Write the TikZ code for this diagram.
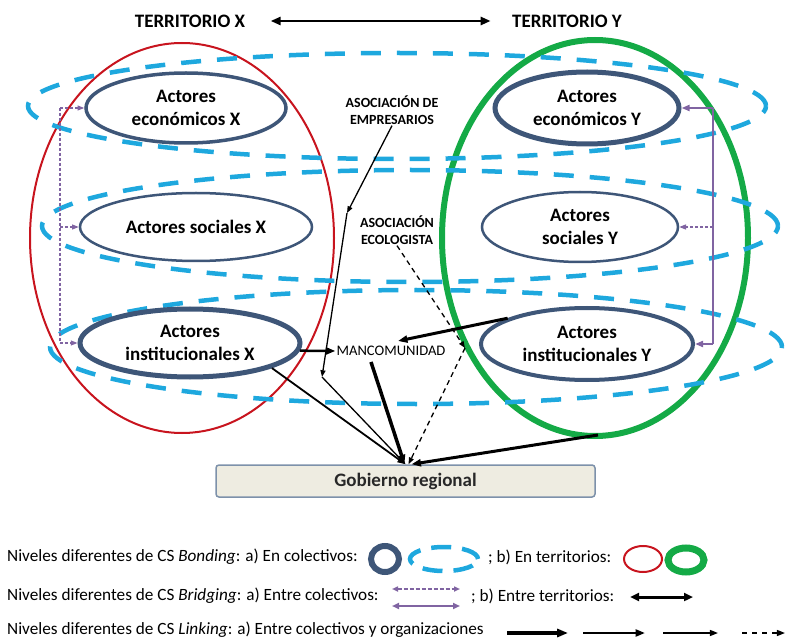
\documentclass[tikz,border=0pt]{standalone}
\usepackage{fontspec}
\setmainfont{Carlito}
\usetikzlibrary{arrows.meta,calc,shapes.geometric}

\definecolor{terrred}{RGB}{200,20,30}
\definecolor{terrgreen}{RGB}{20,170,70}
\definecolor{bandblue}{RGB}{30,168,222}
\definecolor{actorblue}{RGB}{62,86,120}
\definecolor{bridgepurple}{RGB}{128,100,162}
\definecolor{govfill}{RGB}{238,236,225}
\definecolor{govdraw}{RGB}{125,145,170}
\definecolor{govtext}{RGB}{40,40,40}

\begin{document}
\begin{tikzpicture}[x=1pt,y=-1pt,
  actor/.style={ellipse, draw=actorblue, fill=white, inner sep=0pt, align=center,
    font=\fontsize{19}{23}\selectfont\bfseries},
  band/.style={draw=bandblue, line width=4.5pt, dash pattern=on 20pt off 16pt},
  title/.style={font=\fontsize{19}{22}\selectfont\bfseries},
  org/.style={align=center, inner sep=1pt, font=\fontsize{14}{17}\selectfont\bfseries},
  legend/.style={anchor=west, inner sep=0pt, font=\fontsize{17.2}{19}\selectfont},
  tip/.style={-{Triangle[length=#1*1.35pt,width=#1pt]}},
  linkarrow/.style={black, line width=#1},
  weakbridge/.style={draw=bridgepurple, line width=1.3pt, dash pattern=on 3pt off 2pt},
  strongbridge/.style={draw=bridgepurple, line width=2pt},
]
\useasboundingbox (0,0) rectangle (785,639);

% territories
\draw[terrred, line width=2pt] (182,238) ellipse [x radius=152pt, y radius=195pt];
\draw[terrgreen, line width=6pt] (595,238) ellipse [x radius=153pt, y radius=198pt];

% bonding bands across both territories
\draw[band] (397,106) ellipse [x radius=369pt, y radius=53pt];
\draw[band] (410,226) ellipse [x radius=368pt, y radius=56pt];
\draw[band] (416,347) ellipse [x radius=366pt, y radius=57pt];

% titles
\node[title] (tx) at (190,21) {TERRITORIO X};
\node[title] (ty) at (567,21) {TERRITORIO Y};
\draw[line width=2.5pt, {Triangle[length=10pt,width=8pt]}-{Triangle[length=10pt,width=8pt]}]
  ([xshift=22pt]tx.east) -- ([xshift=-18pt]ty.west);

% actors
\node[actor, line width=3.5pt, minimum width=200pt, minimum height=70pt] (ex) at (186,108) {Actores\\económicos X};
\node[actor, line width=2.5pt, minimum width=232pt, minimum height=68pt] (sx) at (196,227) {Actores sociales X};
\node[actor, line width=5pt, minimum width=220pt, minimum height=68pt] (ix) at (190,343) {Actores\\institucionales X};
\node[actor, line width=5pt, minimum width=184pt, minimum height=72pt] (ey) at (587,108) {Actores\\económicos Y};
\node[actor, line width=2.5pt, minimum width=196pt, minimum height=70pt] (sy) at (580,227) {Actores\\sociales Y};
\node[actor, line width=4pt, minimum width=212pt, minimum height=72pt] (iy) at (587,344) {Actores\\institucionales Y};

% organisations
\node[org] (emp) at (392,110) {ASOCIACIÓN DE\\EMPRESARIOS};
\node[org] (eco) at (397,230) {ASOCIACIÓN\\ECOLOGISTA};
\node[inner sep=1pt, font=\fontsize{14.6}{17}\selectfont] (man) at (391,351) {MANCOMUNIDAD};
\node[draw=govdraw, fill=govfill, line width=1.5pt, rounded corners=3pt,
      minimum width=379pt, minimum height=32pt, text=govtext,
      font=\fontsize{19}{22}\selectfont\bfseries] (gob) at (405.5,481) {Gobierno regional};

% bridging inside territory X (weak)
\coordinate (lx) at (60,0);
\draw[weakbridge] (ex.west -| lx) -- (ix.west -| lx);
\draw[weakbridge, tip=5] (ex.west -| lx) -- (ex.west);
\draw[weakbridge, tip=5] (sx.west -| lx) -- (sx.west);
\draw[weakbridge, tip=5] (ix.west -| lx) -- (ix.west);

% bridging inside territory Y
\coordinate (rx) at (713,0);
\draw[strongbridge] (ey.east -| rx) -- (iy.east -| rx);
\draw[strongbridge, tip=6] (ey.east -| rx) -- (ey.east);
\draw[weakbridge, tip=5] (sy.east -| rx) -- (sy.east);
\draw[strongbridge, tip=6] (iy.east -| rx) -- (iy.east);

% linking
\coordinate (k1) at (347,213);
\coordinate (k2) at (322,377);
\coordinate (c1) at (465,348);
\coordinate (gbot) at (598,435);
\draw[linkarrow=1.3pt, tip=5] (emp.south) -- (k1);
\draw[linkarrow=1.3pt, tip=5] (k1) -- (k2);
\draw[linkarrow=1.3pt, tip=5] (k2) -- (gob.north);
\draw[linkarrow=1.3pt, dash pattern=on 5pt off 4pt, tip=5] (eco.south) -- (c1);
\draw[linkarrow=1.3pt, dash pattern=on 5pt off 4pt, tip=5] (c1) -- ([xshift=3pt]gob.north);
\draw[linkarrow=2.5pt, tip=7] (ix.-4) -- (man.west);
\draw[linkarrow=3pt, tip=7] (iy.162) -- ([xshift=7pt,yshift=4pt]man.north);
\draw[linkarrow=3.5pt, tip=7] ([xshift=-20pt,yshift=-5pt]man.south) -- ([xshift=-1pt]gob.north);
\draw[linkarrow=1.8pt, tip=6] (ix.-17) -- (gob.north);
\draw[linkarrow=3pt, tip=7] (gbot) -- ([xshift=6pt]gob.north);

% legend
\node[legend] (l1) at (7,557) {Niveles diferentes de CS \textit{Bonding}:\hspace{5pt}a) En colectivos:};
\draw[actorblue, line width=6pt] (385,559) ellipse [x radius=14pt, y radius=13pt];
\draw[bandblue, line width=4.5pt, dash pattern=on 20pt off 11pt] (444,559) ellipse [x radius=34pt, y radius=12pt];
\node[legend] (l1b) at (488,557) {; b) En territorios:};
\draw[terrred, line width=2pt] (643,559) ellipse [x radius=19pt, y radius=13pt];
\draw[terrgreen, line width=7pt] (686,560) ellipse [x radius=18pt, y radius=12pt];

\node[legend] (l2) at (7,596) {Niveles diferentes de CS \textit{Bridging}:\hspace{5pt}a) Entre colectivos:};
\coordinate (b1) at (392,589);
\coordinate (b2) at (460,589);
\coordinate (b3) at (392,606);
\coordinate (b4) at (460,606);
\draw[bridgepurple, line width=1.5pt, dash pattern=on 4pt off 2pt,
  {Triangle[length=6pt,width=5pt]}-{Triangle[length=6pt,width=5pt]}] (b1) -- (b2);
\draw[bridgepurple, line width=2.5pt,
  {Triangle[length=7pt,width=6pt]}-{Triangle[length=7pt,width=6pt]}] (b3) -- (b4);
\node[legend] (l2b) at (471,596) {; b) Entre territorios:};
\coordinate (b5) at (630,597);
\coordinate (b6) at (693,597);
\draw[line width=3pt, {Triangle[length=9pt,width=8pt]}-{Triangle[length=9pt,width=8pt]}] (b5) -- (b6);

\node[legend] (l3) at (7,630) {Niveles diferentes de CS \textit{Linking}:\hspace{5pt}a) Entre colectivos y organizaciones};
\coordinate (a1) at (507,633);
\coordinate (a2) at (568,633);
\coordinate (a3) at (583,633);
\coordinate (a4) at (645,633);
\coordinate (a5) at (663,633);
\coordinate (a6) at (718,633);
\coordinate (a7) at (742,633);
\coordinate (a8) at (785,633);
\draw[linkarrow=4pt, tip=8] (a1) -- (a2);
\draw[linkarrow=2.5pt, tip=7] (a3) -- (a4);
\draw[linkarrow=1.5pt, tip=6] (a5) -- (a6);
\draw[linkarrow=1.5pt, dash pattern=on 5pt off 5pt, tip=6] (a7) -- (a8);
\end{tikzpicture}
\end{document}
